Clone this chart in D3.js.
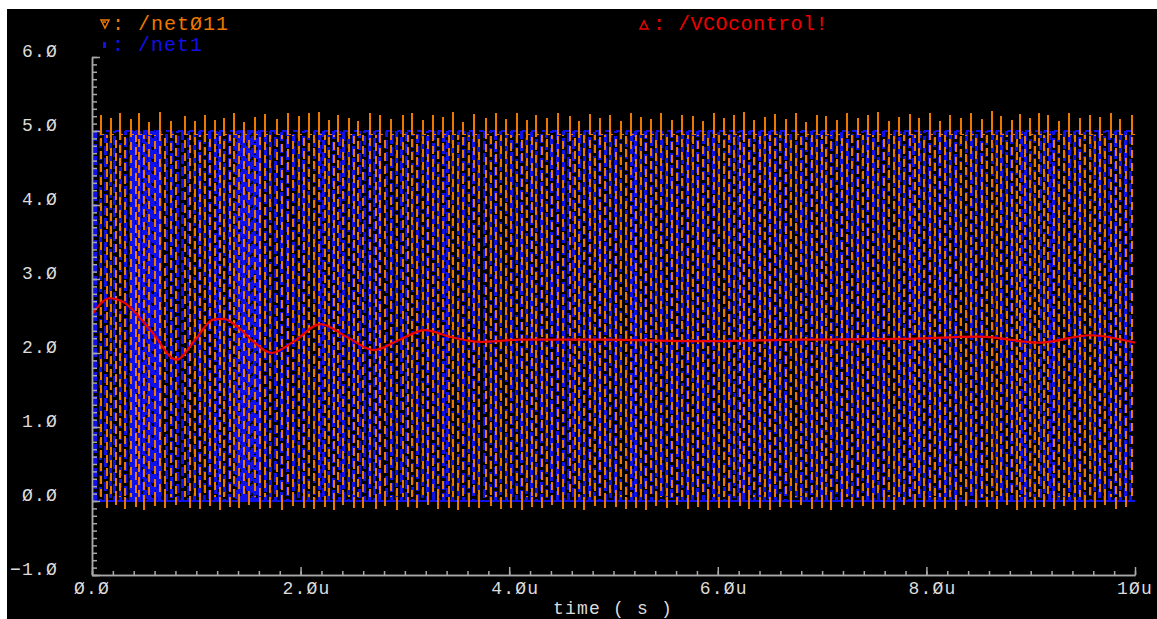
<!DOCTYPE html>
<html>
<head>
<meta charset="utf-8">
<script src="https://cdn.jsdelivr.net/npm/d3@7"></script>
<style>
  body { margin: 0; background: #fff; }
  text { font-family: "Liberation Mono", "DejaVu Sans Mono", monospace; }
</style>
</head>
<body>
<div id="chart"></div>
<script>
// transient plot: /net011 (VCO out), /net1, /VCOcontrol!  (time in us, values in V)

// /net011 rising edges, overshoot peaks and undershoot dips (one per cycle)
var net011Rise = [0.09,0.18,0.27,0.37,0.45,0.55,0.65,0.76,0.89,0.99,
  1.08,1.18,1.27,1.36,1.46,1.56,1.66,1.77,1.88,1.98,
  2.08,2.18,2.27,2.36,2.46,2.55,2.67,2.76,2.87,2.98,
  3.07,3.17,3.27,3.37,3.46,3.56,3.66,3.78,3.87,3.97,
  4.07,4.17,4.26,4.36,4.47,4.58,4.67,4.77,4.87,4.97,
  5.07,5.17,5.26,5.36,5.46,5.56,5.66,5.76,5.86,5.96,
  6.06,6.16,6.25,6.35,6.45,6.55,6.65,6.75,6.85,6.95,
  7.04,7.14,7.24,7.34,7.44,7.54,7.64,7.74,7.84,7.93,
  8.03,8.13,8.23,8.33,8.43,8.53,8.63,8.72,8.82,8.90,
  8.99,9.08,9.17,9.27,9.37,9.47,9.57,9.66,9.77,9.86,
  9.97];
var net011Peak = [5.22,5.18,5.25,5.16,5.24,5.12,5.26,5.14,5.20,5.13,
  5.21,5.15,5.17,5.24,5.12,5.19,5.23,5.16,5.24,5.20,
  5.25,5.26,5.15,5.22,5.18,5.13,5.24,5.21,5.16,5.22,
  5.25,5.15,5.21,5.19,5.26,5.12,5.23,5.18,5.25,5.16,
  5.24,5.15,5.22,5.17,5.25,5.20,5.14,5.23,5.18,5.21,
  5.13,5.24,5.19,5.16,5.25,5.15,5.22,5.20,5.14,5.24,
  5.18,5.21,5.26,5.15,5.19,5.23,5.16,5.25,5.12,5.22,
  5.20,5.15,5.24,5.18,5.21,5.26,5.14,5.19,5.23,5.17,
  5.25,5.13,5.22,5.18,5.24,5.16,5.27,5.20,5.15,5.23,
  5.18,5.25,5.21,5.14,5.24,5.17,5.22,5.19,5.25,5.16,
  5.22];
var net011Dip = [-0.09,-0.06,-0.11,-0.08,-0.12,-0.07,-0.10,-0.05,-0.09,-0.11,
  -0.07,-0.12,-0.08,-0.10,-0.06,-0.11,-0.09,-0.12,-0.07,-0.10,
  -0.11,-0.08,-0.12,-0.06,-0.10,-0.09,-0.11,-0.07,-0.12,-0.08,
  -0.10,-0.06,-0.11,-0.09,-0.12,-0.08,-0.10,-0.07,-0.11,-0.09,
  -0.12,-0.08,-0.10,-0.06,-0.11,-0.09,-0.12,-0.07,-0.10,-0.08,
  -0.11,-0.09,-0.12,-0.07,-0.10,-0.06,-0.11,-0.08,-0.12,-0.09,
  -0.10,-0.07,-0.11,-0.09,-0.12,-0.08,-0.10,-0.06,-0.11,-0.09,
  -0.12,-0.08,-0.10,-0.07,-0.11,-0.09,-0.12,-0.06,-0.10,-0.08,
  -0.11,-0.09,-0.12,-0.07,-0.10,-0.08,-0.11,-0.06,-0.12,-0.09,
  -0.10,-0.08,-0.11,-0.07,-0.12,-0.09,-0.10,-0.06,-0.11,-0.08,
  -0.10];
var net011High = 0.05;   // high time of each pulse
var net011Lo = 0.05, net011Hi = 4.95;

// /net1 rising edges, plus the short glitches at start-up
var net1Rise = [0.03,0.13,0.22,0.32,0.41,0.51,0.61,0.71,0.82,0.93,
  1.03,1.13,1.22,1.32,1.41,1.51,1.61,1.71,1.82,1.93,
  2.03,2.13,2.22,2.32,2.41,2.51,2.61,2.71,2.82,2.92,
  3.02,3.12,3.22,3.32,3.41,3.51,3.61,3.71,3.82,3.92,
  4.02,4.12,4.21,4.31,4.41,4.52,4.62,4.72,4.82,4.92,
  5.02,5.12,5.21,5.31,5.41,5.51,5.61,5.71,5.81,5.91,
  6.01,6.11,6.20,6.30,6.40,6.50,6.60,6.70,6.80,6.90,
  6.99,7.09,7.19,7.29,7.39,7.49,7.59,7.69,7.79,7.88,
  7.98,8.08,8.18,8.28,8.38,8.48,8.58,8.67,8.77,8.86,
  8.95,9.04,9.13,9.22,9.32,9.42,9.52,9.61,9.71,9.81,
  9.91];
var net1Glitch = [0.38,0.44,0.49,0.54,0.59,0.63, 1.39,1.44,1.49,1.54,1.59];
var net1High = 0.05, net1GlitchHigh = 0.015;
var net1Lo = 0.0, net1Hi = 5.0;

// /VCOcontrol!
var vcoT = [0.01,0.17,0.30,0.56,0.81,0.99,1.16,1.26,1.39,1.55,1.72,1.93,2.19,2.44,2.70,2.95,3.19,3.43,3.72,4.10,4.87,5.83,6.79,7.75,8.51,9.09,9.57,10.0];
var vcoV = [2.54,2.74,2.69,2.31,1.91,2.18,2.45,2.46,2.36,2.15,2.00,2.15,2.39,2.22,2.04,2.18,2.31,2.22,2.15,2.18,2.18,2.16,2.18,2.19,2.22,2.14,2.24,2.14];

var yTicks = [-1,0,1,2,3,4,5,6];
var yLabels = ["\u22121.Ø","Ø.Ø","1.Ø","2.Ø","3.Ø","4.Ø","5.Ø","6.Ø"];
var xTicks = [0,2,4,6,8,10];
var xLabels = ["Ø.Ø","2.Øu","4.Øu","6.Øu","8.Øu","1Øu"];

var width = 1157, height = 619;
var orange = "#ec7800", blue = "#1010e8", red = "#f00000", grey = "#a8a8a8", txt = "#dcdcdc";

var svg = d3.select("#chart").append("svg")
  .attr("width", width).attr("height", height);

svg.append("rect").attr("width", width).attr("height", height).attr("fill", "#fff");
svg.append("rect").attr("x", 7).attr("y", 9).attr("width", width - 7).attr("height", height - 9).attr("fill", "#000");

var x = d3.scaleLinear().domain([0, 10]).range([92, 1135]);
var y = d3.scaleLinear().domain([-1, 6]).range([575, 57]);

// ---- waveforms ----
// edge list: each pulse gives a rising and a falling edge
function edges(rises, w) {
  var out = [];
  rises.forEach(function(r) {
    out.push(r);
    if (r + w <= 10) out.push(r + w);
  });
  return out;
}
function tops(rises, w, level) {
  var p = d3.path();
  rises.forEach(function(r) {
    p.moveTo(x(r), y(level)); p.lineTo(x(Math.min(r + w, 10)), y(level));
  });
  return p.toString();
}

// blue /net1: flat parts solid, edges dashed
svg.append("path")
  .attr("d", tops(net1Rise, net1High, net1Hi) + tops(net1Glitch, net1GlitchHigh, net1Hi) +
    "M" + x(0) + "," + y(net1Lo) + "H" + x(10))
  .attr("fill", "none").attr("stroke", blue).attr("stroke-width", 2.5)
  .attr("shape-rendering", "crispEdges");

var blueEdges = edges(net1Rise, net1High).concat(edges(net1Glitch, net1GlitchHigh));
svg.append("g").selectAll("line").data(blueEdges).enter().append("line")
  .attr("x1", function(d){ return x(d); }).attr("x2", function(d){ return x(d); })
  .attr("y1", y(net1Lo)).attr("y2", y(net1Hi))
  .attr("stroke", blue).attr("stroke-width", 3)
  .attr("stroke-dasharray", "9,3")
  .attr("stroke-dashoffset", function(d, i){ return (i * 7) % 12; })
  .attr("shape-rendering", "crispEdges");

// orange /net011
var orangeEdges = edges(net011Rise, net011High);
svg.append("g").selectAll("line").data(orangeEdges).enter().append("line")
  .attr("x1", function(d){ return x(d); }).attr("x2", function(d){ return x(d); })
  .attr("y1", y(net011Lo)).attr("y2", y(net011Hi))
  .attr("stroke", orange).attr("stroke-width", 2)
  .attr("stroke-dasharray", "8,5")
  .attr("stroke-dashoffset", function(d, i){ return (i * 5) % 13; })
  .attr("shape-rendering", "crispEdges");

svg.append("path")
  .attr("d", tops(net011Rise, net011High, net011Hi))
  .attr("fill", "none").attr("stroke", orange).attr("stroke-width", 1.5)
  .attr("stroke-dasharray", "3,3")
  .attr("shape-rendering", "crispEdges");

// overshoot / undershoot spikes
var spikes = d3.path();
net011Rise.forEach(function(r, i) {
  spikes.moveTo(x(r), y(net011Hi)); spikes.lineTo(x(r), y(net011Peak[i]));
  var f = r + net011High;
  if (f <= 10) { spikes.moveTo(x(f), y(net011Lo)); spikes.lineTo(x(f), y(net011Dip[i])); }
});
svg.append("path").attr("d", spikes.toString())
  .attr("fill", "none").attr("stroke", orange).attr("stroke-width", 2)
  .attr("shape-rendering", "crispEdges");

// red /VCOcontrol!
var vco = vcoT.map(function(t, i) { return [t, vcoV[i]]; });
svg.append("path").datum(vco)
  .attr("d", d3.line().x(function(d){ return x(d[0]); }).y(function(d){ return y(d[1]); }).curve(d3.curveMonotoneX))
  .attr("fill", "none").attr("stroke", red).attr("stroke-width", 2.2);

// ---- axes ----
function styleAxis(g) {
  g.selectAll("path,line").attr("stroke", grey).attr("stroke-width", 1.5);
  g.selectAll("text").remove();
}
svg.append("g").attr("transform", "translate(92,0)")
  .call(d3.axisRight(y).tickValues(d3.range(-1, 6.001, 0.1)).tickSize(5).tickSizeOuter(0).tickFormat(""))
  .call(styleAxis);
svg.append("g").attr("transform", "translate(92,0)")
  .call(d3.axisRight(y).tickValues(yTicks).tickSize(8).tickSizeOuter(0).tickFormat(""))
  .call(styleAxis);
svg.append("g").attr("transform", "translate(0,575)")
  .call(d3.axisTop(x).tickValues(d3.range(0, 10.001, 0.2)).tickSize(4).tickSizeOuter(0).tickFormat(""))
  .call(styleAxis);
svg.append("g").attr("transform", "translate(0,575)")
  .call(d3.axisTop(x).tickValues(xTicks).tickSize(8).tickSizeOuter(0).tickFormat(""))
  .call(styleAxis);

svg.selectAll(".ylab").data(yTicks).enter().append("text")
  .attr("class", "ylab")
  .attr("x", 58).attr("y", function(d){ return y(d); })
  .attr("text-anchor", "end")
  .attr("font-size", 18).attr("letter-spacing", 1.2)
  .attr("fill", txt)
  .text(function(d, i){ return yLabels[i]; });

svg.selectAll(".xlab").data(xTicks).enter().append("text")
  .attr("class", "xlab")
  .attr("x", function(d){ return x(d) - 18; }).attr("y", 594)
  .attr("font-size", 18).attr("letter-spacing", 1.2)
  .attr("fill", txt)
  .text(function(d, i){ return xLabels[i]; });

svg.append("text").attr("x", 613).attr("y", 614)
  .attr("text-anchor", "middle").attr("font-size", 18).attr("letter-spacing", 1.2)
  .attr("fill", txt).text("time ( s )");

// ---- legend ----
svg.append("path").attr("d", "M101,20 L109,20 L105,28 Z M103,22 L106,22")
  .attr("fill", "none").attr("stroke", orange).attr("stroke-width", 1.5);
svg.append("text").attr("x", 112).attr("y", 30).attr("font-size", 20).attr("letter-spacing", 1)
  .attr("fill", orange).text(": /netØ11");

svg.append("rect").attr("x", 103).attr("y", 42).attr("width", 3).attr("height", 6).attr("fill", blue);
svg.append("text").attr("x", 112).attr("y", 51).attr("font-size", 20).attr("letter-spacing", 1)
  .attr("fill", blue).text(": /net1");

svg.append("path").attr("d", "M640,29 L644,21 L648,29 Z")
  .attr("fill", "none").attr("stroke", red).attr("stroke-width", 1.5);
svg.append("text").attr("x", 653).attr("y", 30).attr("font-size", 20).attr("letter-spacing", 0.5)
  .attr("fill", red).text(": /VCOcontrol!");
</script>
</body>
</html>
